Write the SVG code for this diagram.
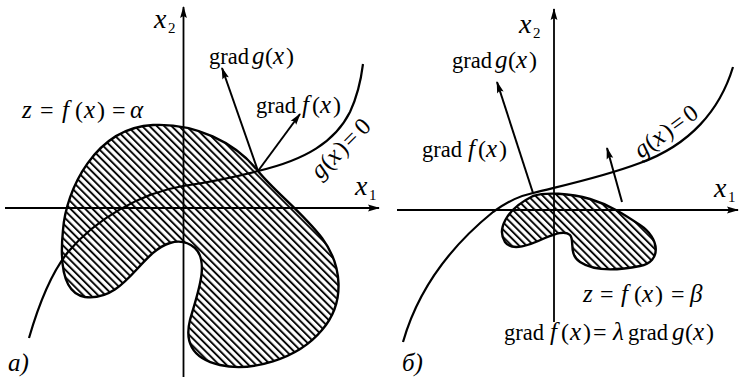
<svg xmlns="http://www.w3.org/2000/svg" width="743" height="377" viewBox="0 0 743 377">
<style>
.ax{stroke:#000;stroke-width:1.8;fill:none}
.cv{stroke:#000;stroke-width:2.2;fill:none}
.blob{stroke:#000;stroke-width:2.4;fill:url(#hatch)}
.vec{stroke:#000;stroke-width:2;fill:none}
text{font-family:"Liberation Serif",serif;font-size:22.5px;fill:#000}
.m{font-style:italic;font-size:25px}
.r{font-size:24px}
.ml{font-style:italic;font-size:28px}
.sub{font-size:15px;font-style:normal}
</style>
<defs>
<pattern id="hatch" width="5.2" height="5.2" patternUnits="userSpaceOnUse" patternTransform="rotate(-45)">
<line x1="1" y1="-1" x2="1" y2="7" stroke="#000" stroke-width="1.9"/>
</pattern>
<marker id="arr" viewBox="0 0 12 8" refX="11" refY="4" markerWidth="13" markerHeight="8" markerUnits="userSpaceOnUse" orient="auto">
<path d="M0,0.6 L12,4 L0,7.4 L2,4 Z" fill="#000"/>
</marker>
</defs>
<rect width="743" height="377" fill="#fff"/>

<g id="panel-a">
<g id="blob-a"><path class="blob" d="M153,125 C195,123 235,142 258,171 C275,192 302,212 322,238 C342,265 346,302 322,330 C297,360 250,372 220,365 C190,358 185,340 190,320 C197,295 210,262 195,248 C188,242 180,240 170,243 C140,252 125,302 85,297 C62,293 60,260 63,230 C66,190 95,128 153,125 Z"/></g>
<g id="axes-a">
<line class="ax" x1="5" y1="208" x2="379" y2="208" marker-end="url(#arr)"/>
<line class="ax" x1="183.5" y1="377" x2="183.5" y2="7" marker-end="url(#arr)"/>
</g>
<g id="constraint-a"><path class="cv" d="M29,338 C40,300 52,272 68,252 C95,220 140,193 183,186 C210,182 235,177 258,171 C305,160 335,142 350,112 C357,97 361,80 363,64"/></g>
</g>

<g id="panel-b">
<g id="blob-b"><path class="blob" d="M533,196 C545,192 570,193 590,199 C610,205 625,215 640,225 C660,238 662,262 640,266 C620,270 595,272 580,262 C568,254 575,240 570,235 C565,230 555,234 545,238 C530,245 512,252 505,242 C497,230 505,210 533,196 Z"/></g>
<g id="axes-b">
<line class="ax" x1="397" y1="210" x2="738" y2="210" marker-end="url(#arr)"/>
<line class="ax" x1="554" y1="322" x2="554" y2="9" marker-end="url(#arr)"/>
</g>
<g id="constraint-b"><path class="cv" d="M403,342 C415,300 440,255 493,212 C510,200 520,196 533,193 C560,186 600,178 640,163 C690,145 720,110 733,67"/></g>
</g>

<g id="connectors">
<line class="vec" x1="258" y1="171" x2="222" y2="68" marker-end="url(#arr)"/>
<line class="vec" x1="258" y1="171" x2="300" y2="114" marker-end="url(#arr)"/>
<line class="vec" x1="533" y1="193" x2="497" y2="82" marker-end="url(#arr)"/>
<line class="vec" x1="622" y1="202" x2="607" y2="148" marker-end="url(#arr)"/>
</g>

<g id="labels">
<text id="x2a" x="154" y="28" class="ml">x<tspan class="sub" x="168" dy="5">2</tspan></text>
<text id="x1a" x="355" y="195" class="ml">x<tspan class="sub" x="369" dy="5">1</tspan></text>
<text id="gradg-a" y="64"><tspan x="209">grad</tspan><tspan class="m" x="252">g</tspan><tspan class="r" x="265">(</tspan><tspan class="m" x="273">x</tspan><tspan class="r" x="286">)</tspan></text>
<text id="gradf-a" y="113"><tspan x="256">grad</tspan><tspan class="m" x="302">f</tspan><tspan class="r" x="312">(</tspan><tspan class="m" x="320">x</tspan><tspan class="r" x="333">)</tspan></text>
<text id="alpha" y="118"><tspan class="m" x="22">z</tspan><tspan class="r" x="40">=</tspan><tspan class="m" x="62">f</tspan><tspan class="r" x="75">(</tspan><tspan class="m" x="84">x</tspan><tspan class="r" x="97">)</tspan><tspan class="r" x="112">=</tspan><tspan class="m" x="130">α</tspan></text>
<text id="g0-a" y="180" transform="rotate(-45 320 180)"><tspan class="m" x="320">g</tspan><tspan class="r" x="333">(</tspan><tspan class="m" x="341">x</tspan><tspan class="r" x="354">)</tspan><tspan class="r" x="364">=</tspan><tspan class="r" x="382">0</tspan></text>
<text id="la" x="8" y="371" class="m">a)</text>

<text id="x2b" x="519" y="33" class="ml">x<tspan class="sub" x="533" dy="5">2</tspan></text>
<text id="x1b" x="714" y="197" class="ml">x<tspan class="sub" x="728" dy="5">1</tspan></text>
<text id="gradg-b" y="68"><tspan x="452">grad</tspan><tspan class="m" x="495">g</tspan><tspan class="r" x="508">(</tspan><tspan class="m" x="516">x</tspan><tspan class="r" x="529">)</tspan></text>
<text id="gradf-b" y="157"><tspan x="422">grad</tspan><tspan class="m" x="468">f</tspan><tspan class="r" x="478">(</tspan><tspan class="m" x="486">x</tspan><tspan class="r" x="499">)</tspan></text>
<text id="g0-b" y="159" transform="rotate(-36 641 159)"><tspan class="m" x="641">g</tspan><tspan class="r" x="654">(</tspan><tspan class="m" x="662">x</tspan><tspan class="r" x="675">)</tspan><tspan class="r" x="685">=</tspan><tspan class="r" x="702">0</tspan></text>
<text id="beta" y="302"><tspan class="m" x="583">z</tspan><tspan class="r" x="600">=</tspan><tspan class="m" x="621">f</tspan><tspan class="r" x="634">(</tspan><tspan class="m" x="642">x</tspan><tspan class="r" x="655">)</tspan><tspan class="r" x="671">=</tspan><tspan class="m" x="690">β</tspan></text>
<text id="lagr" y="340"><tspan x="504">grad</tspan><tspan class="m" x="550">f</tspan><tspan class="r" x="561">(</tspan><tspan class="m" x="570">x</tspan><tspan class="r" x="583">)</tspan><tspan class="r" x="593">=</tspan><tspan class="m" x="613">λ</tspan><tspan x="628">grad</tspan><tspan class="m" x="672">g</tspan><tspan class="r" x="685">(</tspan><tspan class="m" x="693">x</tspan><tspan class="r" x="706">)</tspan></text>
<text id="lb" x="402" y="371" class="m">б)</text>
</g>
</svg>
